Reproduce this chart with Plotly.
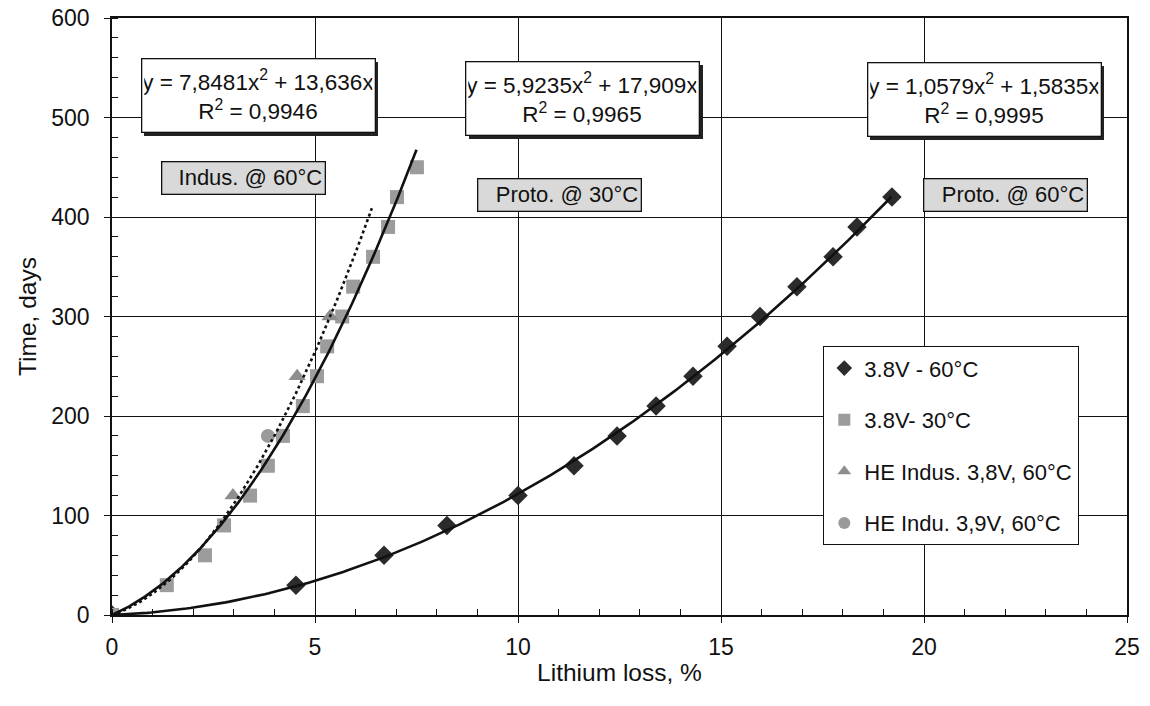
import numpy as np
import plotly.graph_objects as go

# ---------------- data ----------------
# 3.8V - 60°C (diamonds)
d60_x = [0, 4.53, 6.70, 8.25, 10.0, 11.38, 12.44, 13.40, 14.31, 15.15, 15.96, 16.87, 17.76, 18.35, 19.21]
d60_y = [0, 30, 60, 90, 120, 150, 180, 210, 240, 270, 300, 330, 360, 390, 420]

# 3.8V - 30°C (squares)
s30_x = [0, 1.35, 2.29, 2.76, 3.40, 3.84, 4.21, 4.70, 5.05, 5.30, 5.67, 5.94, 6.43, 6.80, 7.02, 7.51]
s30_y = [0, 30, 60, 90, 120, 150, 180, 210, 240, 270, 300, 330, 360, 390, 420, 450]

# HE Indus. 3,8V, 60°C (triangles)
tri_x = [2.98, 4.56, 5.37]
tri_y = [120, 240, 300]

# HE Indu. 3,9V, 60°C (circles)
cir_x = [3.84]
cir_y = [180]

# trendline coefficients as printed on the chart (y = a x^2 + b x) and x-extent
proto60_coef = [1.0579, 1.5835]
proto60_xmax = 19.2
proto30_coef = [5.9235, 17.909]
proto30_xmax = 7.5
indus60_coef = [7.8481, 13.636]
indus60_xmax = 6.4

eq_texts = [
    "y = 7,8481x<sup>2</sup> + 13,636x<br>R<sup>2</sup> = 0,9946",
    "y = 5,9235x<sup>2</sup> + 17,909x<br>R<sup>2</sup> = 0,9965",
    "y = 1,0579x<sup>2</sup> + 1,5835x<br>R<sup>2</sup> = 0,9995",
]
label_texts = ["Indus. @ 60°C", "Proto. @ 30°C", "Proto. @ 60°C"]

x_ticks = [0, 5, 10, 15, 20, 25]
y_ticks = [0, 100, 200, 300, 400, 500, 600]

FONT = "Liberation Sans, Arial, sans-serif"

def curve(coef, xmax):
    xs = np.linspace(0, xmax, 200)
    return xs, coef[0] * xs ** 2 + coef[1] * xs

fig = go.Figure()

fig.add_trace(go.Scatter(x=d60_x, y=d60_y, mode="markers", name="3.8V - 60°C",
                         legendgroup="a",
                         marker=dict(symbol="diamond", size=15, color="#2b2b2b")))
fig.add_trace(go.Scatter(x=s30_x, y=s30_y, mode="markers", name="3.8V- 30°C",
                         legendgroup="b",
                         marker=dict(symbol="square", size=14, color="#9c9c9c")))
fig.add_trace(go.Scatter(x=tri_x, y=tri_y, mode="markers", name="HE Indus. 3,8V, 60°C",
                         legendgroup="c",
                         marker=dict(symbol="triangle-up", size=15, color="#8e8e8e")))
fig.add_trace(go.Scatter(x=cir_x, y=cir_y, mode="markers", name="HE Indu. 3,9V, 60°C",
                         legendgroup="d",
                         marker=dict(symbol="circle", size=14, color="#9a9a9a")))

for coef, xmax, dash in [(proto60_coef, proto60_xmax, "solid"),
                         (proto30_coef, proto30_xmax, "solid"),
                         (indus60_coef, indus60_xmax, "dot")]:
    cx, cy = curve(coef, xmax)
    fig.add_trace(go.Scatter(x=cx, y=cy, mode="lines", showlegend=False,
                             line=dict(color="#111111", width=2.6, dash=dash),
                             hoverinfo="skip"))

# equation boxes (with shadow)
eq_pos = [(3.60, 522), (11.60, 519), (21.48, 518)]
for (ex, ey), t in zip(eq_pos, eq_texts):
    fig.add_annotation(x=ex, y=ey, xref="x", yref="y", text=" ", showarrow=False,
                       width=228, height=68, bgcolor="#222222", borderpad=2,
                       borderwidth=1, bordercolor="#222222", xshift=3, yshift=-3)
    fig.add_annotation(x=ex, y=ey, xref="x", yref="y", text=t, showarrow=False,
                       width=228, height=68, bgcolor="white", borderpad=2,
                       borderwidth=1.3, bordercolor="#111111",
                       font=dict(family=FONT, size=22.5, color="#111111"))

lab_pos = [(3.25, 439), (11.03, 422), (22.0, 422)]
for (lx, ly), t in zip(lab_pos, label_texts):
    fig.add_annotation(x=lx, y=ly, xref="x", yref="y", text=t, showarrow=False,
                       width=158, height=27, align="right", bgcolor="#d9d9d9",
                       borderpad=2, borderwidth=1.3, bordercolor="#111111",
                       font=dict(family=FONT, size=22, color="#111111"))

axis_common = dict(
    showgrid=True, gridcolor="#111111", gridwidth=1.4,
    showline=True, linecolor="#111111", linewidth=1.6, mirror=True,
    zeroline=False, ticks="outside", ticklen=6, tickcolor="#111111",
    automargin=False,
    tickfont=dict(family=FONT, size=23, color="#111111"),
)

fig.update_xaxes(range=[0, 25], tickvals=x_ticks, ticklabelstandoff=5,
                 minor=dict(dtick=1, ticks="inside", ticklen=6, tickcolor="#111111", showgrid=False),
                 title=dict(text="Lithium loss, %", standoff=4,
                            font=dict(family=FONT, size=24.5, color="#111111")),
                 **axis_common)
fig.update_yaxes(range=[0, 600], tickvals=y_ticks, ticklabelstandoff=10,
                 minor=dict(dtick=20, ticks="inside", ticklen=6, tickcolor="#111111", showgrid=False),
                 title=dict(text="Time, days", standoff=8,
                            font=dict(family=FONT, size=24.5, color="#111111")),
                 **axis_common)

fig.update_layout(
    width=1150, height=706,
    margin=dict(l=112, r=23, t=18, b=91),
    plot_bgcolor="white", paper_bgcolor="white",
    font=dict(family=FONT, size=22, color="#111111"),
    legend=dict(x=0.7005, y=0.4506, xanchor="left", yanchor="top",
                bgcolor="white", bordercolor="#111111", borderwidth=1.3,
                tracegroupgap=20, itemsizing="constant",
                font=dict(family=FONT, size=22, color="#111111")),
    showlegend=True,
)

fig.write_html("out.html")
